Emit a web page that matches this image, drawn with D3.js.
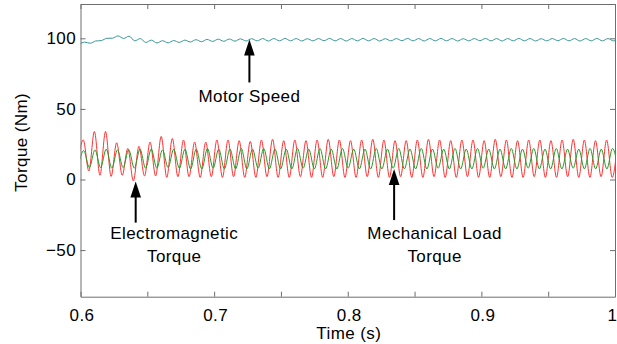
<!DOCTYPE html>
<html>
<head>
<meta charset="utf-8">
<script src="https://cdn.jsdelivr.net/npm/d3@7"></script>
<style>
body { margin: 0; background: #fff; }
svg text { font-family: Arial, "Liberation Sans", sans-serif; font-size: 17px; fill: #000; letter-spacing: 0.4px; }
</style>
</head>
<body>
<svg id="chart"></svg>
<script>
// extremes of each trace (trough, peak, trough, ...) sampled every half cycle
var redStart = 0.5979, redStep = 1 / 240;
var redValues = [
  12,28, 6,34, 3,34, 2.2,26, 3,22, -1,23.5, 2.5,26.5, 2.5,30.5, 1.5,29, 2,28, 2,26.5, 1.5,26.5, 2,28,
  1.5,28, 2,27.5, 1.5,27, 1.5,28, 2,28.5, 1.5,27.5,
  1.5,28, 2,27.5, 1.5,28, 1.5,28.5, 2,28, 1.5,27.5,
  1.5,28, 2,28.5, 1.5,28, 1.5,27.5, 2,27.5, 1.5,28,
  1.5,28.5, 2,28, 1.5,27.5, 1.5,28, 2,28, 1.5,27.5,
  1.5,28.5, 2,28, 1.5,27.5, 1.5,28, 2,28, 1.5,27.5,
  1.5,28, 2,28.5, 1.5,28, 1.5,27.5, 2,28, 1.5,28
];

var greenStart = 0.5982, greenStep = 0.00421;
var greenValues = [
  9,20.5, 8.5,21, 8.5,21.5, 8,21, 8.5,21, 8,21.5, 8,21.5, 8,21, 8.5,21.5, 8,21.5,
  7.5,21.5, 7.5,22, 8,21.5, 7.5,21.5, 7.5,22, 7.5,21.5, 8,22, 7.5,21.5,
  7.5,21.5, 7.5,22, 8,21.5, 7.5,22, 7.5,21.5, 7.5,22, 8,21.5, 7.5,21.5,
  7.5,22, 7.5,21.5, 8,22, 7.5,21.5, 7.5,22, 7.5,21.5, 8,21.5, 7.5,22,
  7.5,21.5, 7.5,22, 8,21.5, 7.5,21.5, 7.5,22, 7.5,21.5, 8,22, 7.5,21.5,
  7.5,22, 7.5,21.5, 8,21.5, 7.5,22, 7.5,21.5, 7.5,22,
  7.5
];

var tealStart = 0.5989, tealStep = 1 / 240;
var tealValues = [
  95.7,97.3, 96.5,98.1, 98.4,100.0, 100.1,101.7, 99.9,101.5, 98.2,99.8, 97.1,98.7, 96.7,98.3,
  96.8,98.4, 97.1,98.7, 97.4,99.0, 97.6,99.2, 97.8,99.4, 97.9,99.5, 98.0,99.6, 98.1,99.7,
  98.2,99.8, 98.1,99.8, 98.2,99.9, 98.2,99.8, 98.1,99.7, 98.2,99.8, 98.3,99.9, 98.2,99.8, 98.1,99.8, 98.2,99.9, 98.2,99.8,
  98.1,99.7, 98.2,99.8, 98.3,99.9, 98.2,99.8, 98.1,99.8, 98.2,99.9, 98.2,99.8, 98.1,99.7, 98.2,99.8, 98.3,99.9, 98.2,99.8,
  98.1,99.8, 98.2,99.9, 98.2,99.8, 98.1,99.7, 98.2,99.8, 98.3,99.9, 98.2,99.8, 98.1,99.8, 98.2,99.9, 98.2,99.8, 98.2,99.8
];

var xTicks = [0.6, 0.65, 0.7, 0.75, 0.8, 0.85, 0.9, 0.95, 1];
var yTicks = [-50, 0, 50, 100];

var noteLabels = [["Motor Speed"], ["Electromagnetic", "Torque"], ["Mechanical Load", "Torque"]];
var noteTimes = [0.7264, 0.6413, 0.8347];
var noteValues = [99.2, -1.5, 7.4];

function chart() {
  var width = 617, height = 344;
  var margin = {top: 4, right: 2, bottom: 47.3, left: 80.5};

  var svg = d3.select("#chart").attr("width", width).attr("height", height);

  var x = d3.scaleLinear().domain([0.6, 1]).range([margin.left, width - margin.right]);
  var y = d3.scaleLinear().domain([-83, 124.3]).range([height - margin.bottom, margin.top]);

  svg.append("defs").append("clipPath").attr("id", "plot")
    .append("rect")
    .attr("x", x.range()[0]).attr("y", y.range()[1])
    .attr("width", x.range()[1] - x.range()[0])
    .attr("height", y.range()[0] - y.range()[1]);

  function series(start, step, values) {
    return values.map(function(v, i) { return [start + i * step, v]; });
  }

  var line = d3.line()
    .x(function(d) { return x(d[0]); })
    .y(function(d) { return y(d[1]); })
    .curve(d3.curveMonotoneX);

  var lines = svg.append("g").attr("clip-path", "url(#plot)");
  lines.append("path").attr("d", line(series(redStart, redStep, redValues)))
    .attr("fill", "none").attr("stroke", "#ff3030").attr("stroke-width", 1);
  lines.append("path").attr("d", line(series(greenStart, greenStep, greenValues)))
    .attr("fill", "none").attr("stroke", "#2a992a").attr("stroke-width", 1);
  lines.append("path").attr("d", line(series(tealStart, tealStep, tealValues)))
    .attr("fill", "none").attr("stroke", "#3a9696").attr("stroke-width", 1);

  var fmtX = function(d) { return Math.round(d * 100) % 10 === 0 ? d3.format("~g")(d) : ""; };

  var xAxis = svg.append("g")
    .attr("transform", "translate(0," + y.range()[0] + ")")
    .call(d3.axisBottom(x).tickValues(xTicks).tickFormat(fmtX)
      .tickSizeInner(-5).tickSizeOuter(0).tickPadding(12));
  // the last label sits against the page edge, keep it whole
  xAxis.selectAll("text").attr("dx", function(d) { return d === 1 ? -3 : 1; });

  svg.append("g")
    .attr("transform", "translate(0," + y.range()[1] + ")")
    .call(d3.axisTop(x).tickValues(xTicks).tickFormat("").tickSizeInner(-5).tickSizeOuter(0));

  svg.append("g")
    .attr("transform", "translate(" + x.range()[0] + ",0)")
    .call(d3.axisLeft(y).tickValues(yTicks).tickSizeInner(-5).tickSizeOuter(0).tickPadding(4.5));

  svg.append("g")
    .attr("transform", "translate(" + x.range()[1] + ",0)")
    .call(d3.axisRight(y).tickValues(yTicks).tickFormat("").tickSizeInner(-5).tickSizeOuter(0));

  svg.selectAll(".domain, .tick line").attr("stroke", "#6e6e6e");

  svg.append("text")
    .attr("x", (x.range()[0] + x.range()[1]) / 2 + 1)
    .attr("y", 339)
    .attr("text-anchor", "middle")
    .text("Time (s)");

  svg.append("text")
    .attr("transform", "translate(27," + ((y.range()[0] + y.range()[1]) / 2 - 8) + ") rotate(-90)")
    .attr("text-anchor", "middle")
    .text("Torque (Nm)");

  // arrow tail length, text shift and first baseline, in px from the tip
  var layout = [
    {tail: 43, dx: 0, dy: 63},
    {tail: 41, dx: 38.5, dy: 57.5},
    {tail: 51, dx: 40.5, dy: 70}
  ];

  var notes = svg.append("g");
  noteLabels.forEach(function(labels, i) {
    var tx = x(noteTimes[i]), ty = y(noteValues[i]), l = layout[i];
    notes.append("line")
      .attr("x1", tx).attr("x2", tx)
      .attr("y1", ty + 14).attr("y2", ty + l.tail)
      .attr("stroke", "#000").attr("stroke-width", 2);
    notes.append("path")
      .attr("d", "M" + tx + "," + ty + "L" + (tx - 5.3) + "," + (ty + 16) + "L" + (tx + 5.3) + "," + (ty + 16) + "Z")
      .attr("fill", "#000");
    labels.forEach(function(s, j) {
      notes.append("text")
        .attr("x", tx + l.dx)
        .attr("y", ty + l.dy + j * 23)
        .attr("text-anchor", "middle")
        .text(s);
    });
  });
}

chart();
</script>
</body>
</html>
